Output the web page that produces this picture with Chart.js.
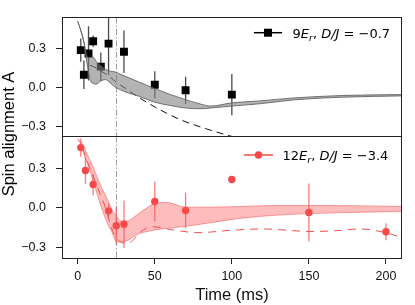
<!DOCTYPE html>
<html>
<head>
<meta charset="utf-8">
<script src="https://cdn.jsdelivr.net/npm/chart.js@4.4.0/dist/chart.umd.min.js"></script>
<style>
  html, body { margin: 0; padding: 0; background: #fff; }
  #wrap { position: relative; width: 415px; height: 305px; }
  #wrap canvas { position: absolute; left: 0; top: 0; }
</style>
</head>
<body>
<div id="wrap">
  <canvas id="topChart" width="415" height="305"></canvas>
  <canvas id="bottomChart" width="415" height="305"></canvas>
</div>
<script>
// ---- axes ----
const xTicks = [0, 50, 100, 150, 200];
const yTicks = [-0.3, 0, 0.3];
const xRange = [-10.2, 210.4];
const yRange = [-0.38, 0.54];
const quenchTime = 25;

// ---- top panel: 9Er, D/J = -0.7 ----
const topLabel = [['9', ''], ['E', 'it'], ['r', 'sub'], [', ', ''], ['D/J', 'it'], [' = \u22120.7', '']];
const topTimes  = [2, 4, 7, 10, 15, 20, 30, 50, 70, 100];
const topValues = [0.288, 0.097, 0.262, 0.356, 0.16, 0.338, 0.275, 0.02, -0.023, -0.056];
const topErrors = [0.09, 0.11, 0.21, 0.045, 0.11, 0.24, 0.165, 0.105, 0.105, 0.16];

const topBandTimes = [0, 2, 4, 6, 8, 10, 12, 15, 18, 21, 24, 27, 32, 40, 50, 60, 70, 80, 86, 100, 118, 140, 172, 210];
const topBandUpper = [0.51, 0.44, 0.35, 0.24, 0.23, 0.235, 0.20, 0.165, 0.14, 0.125, 0.12, 0.105, 0.08, 0.04, -0.01, -0.055, -0.095, -0.13, -0.145, -0.12, -0.105, -0.082, -0.063, -0.056];
const topBandLower = [0.51, 0.44, 0.35, 0.19, 0.06, 0.03, 0.025, 0.05, 0.06, 0.035, 0.005, -0.015, -0.04, -0.07, -0.115, -0.14, -0.16, -0.165, -0.16, -0.145, -0.127, -0.097, -0.076, -0.066];

const topDashTimes  = [8, 12, 16, 20, 25, 30, 40, 51, 66, 84, 106];
const topDashValues = [0.17, 0.15, 0.12, 0.09, 0.04, 0.0, -0.08, -0.158, -0.247, -0.323, -0.40];

// ---- bottom panel: 12Er, D/J = -3.4 ----
const botLabel = [['12', ''], ['E', 'it'], ['r', 'sub'], [', ', ''], ['D/J', 'it'], [' = \u22123.4', '']];
const botTimes  = [2, 5, 10, 20, 25, 30, 50, 70, 100, 150, 200];
const botValues = [0.456, 0.282, 0.176, -0.023, -0.135, -0.125, 0.048, -0.02, 0.214, -0.036, -0.181];
const botErrors = [0.07, 0.1, 0.08, 0.055, 0.14, 0.18, 0.15, 0.135, 0, 0.22, 0.065];

const botBandTimes = [0, 2, 4, 6, 8, 10, 13, 16, 19, 22, 25, 28, 32, 36, 40, 45, 50, 58, 70, 85, 105, 130, 160, 210];
const botBandUpper = [0.52, 0.50, 0.46, 0.41, 0.36, 0.31, 0.22, 0.14, 0.07, -0.01, -0.06, -0.10, -0.10, -0.075, -0.04, 0.0, 0.035, 0.04, 0.005, 0.005, 0.01, 0.018, 0.018, 0.01];
const botBandLower = [0.52, 0.48, 0.41, 0.34, 0.28, 0.20, 0.09, -0.02, -0.11, -0.18, -0.255, -0.26, -0.25, -0.22, -0.195, -0.18, -0.168, -0.155, -0.14, -0.115, -0.08, -0.055, -0.04, -0.028];

const botDashTimes  = [3, 6, 10, 14, 18, 21, 24, 27, 31, 35, 40, 48, 62, 78, 100, 120, 140, 150, 168, 183, 199, 210];
const botDashValues = [0.45, 0.36, 0.24, 0.12, 0.0, -0.12, -0.21, -0.25, -0.27, -0.255, -0.19, -0.143, -0.168, -0.188, -0.17, -0.16, -0.173, -0.18, -0.173, -0.16, -0.186, -0.225];

const pts = (xs, ys) => xs.map((x, i) => ({ x: x, y: ys[i] }));
const fmt = v => (Math.abs(v) < 1e-9 ? '0.0' : v.toFixed(1).replace('-', '\u2212'));

const TICK_FONT = { family: "'Liberation Sans', Arial, sans-serif", size: 12.5 };

// error bars drawn under the markers
const errorBars = {
  id: 'errorBars',
  beforeDatasetDraw(chart, args, o) {
    if (args.index !== o.datasetIndex) return;
    const { ctx, chartArea: a } = chart;
    const ys = chart.scales.y;
    const meta = chart.getDatasetMeta(args.index);
    ctx.save();
    ctx.beginPath();
    ctx.rect(a.left, a.top, a.right - a.left, a.bottom - a.top);
    ctx.clip();
    ctx.strokeStyle = o.color;
    ctx.lineWidth = 1.3;
    o.values.forEach((v, i) => {
      const e = o.errors[i];
      if (!e) return;
      const x = meta.data[i].x;
      ctx.beginPath();
      ctx.moveTo(x, ys.getPixelForValue(v + e));
      ctx.lineTo(x, ys.getPixelForValue(v - e));
      ctx.stroke();
    });
    ctx.restore();
  }
};

// frame, quench marker line, legend and shared y title
const decor = {
  id: 'decor',
  beforeDatasetsDraw(chart) {
    const { ctx, chartArea: a } = chart;
    const x = Math.round(chart.scales.x.getPixelForValue(quenchTime)) + 0.5;
    ctx.save();
    ctx.strokeStyle = '#a0a0a0';
    ctx.lineWidth = 1;
    ctx.setLineDash([6, 2, 1.5, 2]);
    ctx.beginPath();
    ctx.moveTo(x, a.top);
    ctx.lineTo(x, a.bottom);
    ctx.stroke();
    ctx.restore();
  },
  afterDraw(chart, args, o) {
    const { ctx, chartArea: a } = chart;
    ctx.save();
    ctx.strokeStyle = '#222';
    ctx.lineWidth = 1;
    const l = Math.floor(a.left) + 0.5, t = Math.floor(a.top) + 0.5;
    const r = Math.round(a.right) - 0.5, b = Math.floor(a.bottom) + 0.5;
    ctx.strokeRect(l, t, r - l, b - t);

    // legend
    ctx.strokeStyle = o.color;
    ctx.fillStyle = o.color;
    ctx.lineWidth = 1.5;
    ctx.beginPath();
    ctx.moveTo(o.x0, o.y);
    ctx.lineTo(o.x1, o.y);
    ctx.stroke();
    const cx = (o.x0 + o.x1) / 2;
    if (o.marker === 'rect') {
      ctx.fillRect(cx - 4, o.y - 4, 8, 8);
    } else {
      ctx.beginPath();
      ctx.arc(cx, o.y, 3.7, 0, Math.PI * 2);
      ctx.fill();
    }
    ctx.fillStyle = '#000';
    ctx.textBaseline = 'alphabetic';
    let x = o.textX;
    o.label.forEach(([txt, st]) => {
      const size = st === 'sub' ? 9.5 : 13;
      ctx.font = (st ? 'italic ' : '') + size + 'px "DejaVu Sans"';
      ctx.fillText(txt, x, o.baseline + (st === 'sub' ? 3 : 0));
      x += ctx.measureText(txt).width;
    });

    if (o.yTitle) {
      ctx.translate(9.5, 134);
      ctx.rotate(-Math.PI / 2);
      ctx.font = "16.5px 'Liberation Sans', Arial, sans-serif";
      ctx.textAlign = 'center';
      ctx.textBaseline = 'middle';
      ctx.fillText(o.yTitle, 0, 0);
    }
    ctx.restore();
  }
};

function makeOptions(padding, showX, decorOpts, errOpts) {
  return {
    responsive: false,
    animation: false,
    layout: { padding: padding },
    plugins: {
      legend: { display: false },
      tooltip: { enabled: false },
      decor: decorOpts,
      errorBars: errOpts
    },
    scales: {
      x: {
        type: 'linear',
        min: xRange[0],
        max: xRange[1],
        display: showX,
        afterBuildTicks: s => { s.ticks = xTicks.map(v => ({ value: v })); },
        afterFit: s => { if (showX) s.height = 47; },
        grid: { drawOnChartArea: false, tickLength: 6, color: '#222' },
        border: { display: false },
        ticks: { color: '#111', font: TICK_FONT, padding: 5, maxRotation: 0 },
        title: {
          display: true,
          text: 'Time (ms)',
          color: '#111',
          font: { family: "'Liberation Sans', Arial, sans-serif", size: 16.5 },
          padding: { top: 0, bottom: 0 }
        }
      },
      y: {
        type: 'linear',
        min: yRange[0],
        max: yRange[1],
        afterBuildTicks: s => { s.ticks = yTicks.map(v => ({ value: v })); },
        afterFit: s => { s.width = 62; },
        grid: { drawOnChartArea: false, tickLength: 6, color: '#222' },
        border: { display: false },
        ticks: { color: '#111', font: TICK_FONT, padding: 10, callback: v => fmt(v) }
      }
    }
  };
}

// top chart
new Chart(document.getElementById('topChart'), {
  type: 'line',
  plugins: [errorBars, decor],
  data: {
    datasets: [
      {
        data: pts(topBandTimes, topBandLower),
        borderColor: 'rgba(95,95,95,0.85)',
        borderWidth: 1,
        pointRadius: 0,
        cubicInterpolationMode: 'monotone',
        fill: false
      },
      {
        data: pts(topBandTimes, topBandUpper),
        borderColor: 'rgba(95,95,95,0.85)',
        borderWidth: 1,
        pointRadius: 0,
        cubicInterpolationMode: 'monotone',
        backgroundColor: 'rgba(128,128,128,0.6)',
        fill: '-1'
      },
      {
        data: pts(topDashTimes, topDashValues),
        borderColor: '#111',
        borderWidth: 1,
        borderDash: [7, 5],
        pointRadius: 0,
        cubicInterpolationMode: 'monotone',
        fill: false
      },
      {
        data: pts(topTimes, topValues),
        showLine: false,
        pointStyle: 'rect',
        pointRadius: 5.6,
        pointBackgroundColor: '#000',
        pointBorderColor: '#000',
        pointBorderWidth: 0
      }
    ]
  },
  options: makeOptions(
    { top: 15, right: 13, bottom: 168.5, left: 0 },
    false,
    { color: '#000', marker: 'rect', x0: 254, x1: 282, y: 32.7, textX: 292.5, baseline: 37.7, label: topLabel },
    { datasetIndex: 3, values: topValues, errors: topErrors, color: '#4a4a4a' }
  )
});

// bottom chart
new Chart(document.getElementById('bottomChart'), {
  type: 'line',
  plugins: [errorBars, decor],
  data: {
    datasets: [
      {
        data: pts(botBandTimes, botBandLower),
        borderColor: 'rgba(240,90,90,0.55)',
        borderWidth: 1,
        pointRadius: 0,
        cubicInterpolationMode: 'monotone',
        fill: false
      },
      {
        data: pts(botBandTimes, botBandUpper),
        borderColor: 'rgba(240,90,90,0.55)',
        borderWidth: 1,
        pointRadius: 0,
        cubicInterpolationMode: 'monotone',
        backgroundColor: 'rgba(255,80,80,0.38)',
        fill: '-1'
      },
      {
        data: pts(botDashTimes, botDashValues),
        borderColor: '#f04e4e',
        borderWidth: 1,
        borderDash: [8, 6],
        pointRadius: 0,
        cubicInterpolationMode: 'monotone',
        fill: false
      },
      {
        data: pts(botTimes, botValues),
        showLine: false,
        pointStyle: 'circle',
        pointRadius: 3.7,
        pointBackgroundColor: '#f54848',
        pointBorderColor: '#f54848',
        pointBorderWidth: 0
      }
    ]
  },
  options: makeOptions(
    { top: 136.5, right: 13, bottom: 0, left: 0 },
    true,
    { color: '#f54848', marker: 'circle', x0: 244, x1: 273, y: 155, textX: 282.5, baseline: 159.5, label: botLabel, yTitle: 'Spin alignment A' },
    { datasetIndex: 3, values: botValues, errors: botErrors, color: 'rgba(245,80,80,0.75)' }
  )
});
</script>
</body>
</html>
